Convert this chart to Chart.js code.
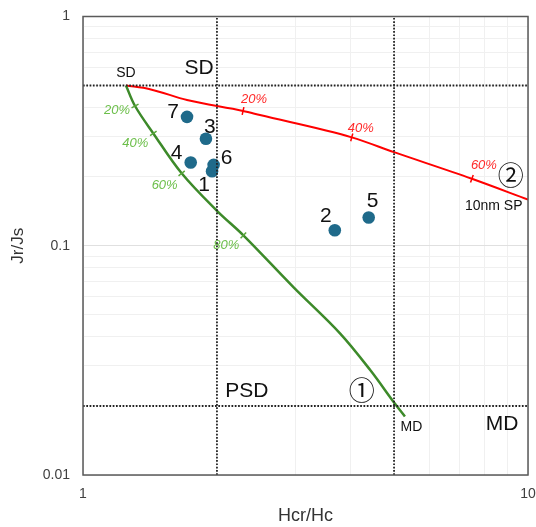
<!DOCTYPE html>
<html>
<head>
<meta charset="utf-8">
<script src="https://cdn.jsdelivr.net/npm/chart.js@4.4.1/dist/chart.umd.min.js"></script>
<style>
  html, body { margin: 0; padding: 0; background: #fff; }
  canvas { display: block; }
</style>
</head>
<body>
<canvas id="day" width="536" height="527"></canvas>
<script>
// Day plot (Jr/Js vs Hcr/Hc) with the SD-MD and SD-SP mixing curves

const sampleIds = ['1', '2', '3', '4', '5', '6', '7'];
const sampleHcr = [1.95, 3.68, 1.889, 1.746, 4.385, 1.966, 1.713];
const sampleJr = [0.2115, 0.1169, 0.2927, 0.2309, 0.1328, 0.2254, 0.365];

// curve 1: SD + MD mixture
const mdCurveHcr = [1.249, 1.309, 1.439, 1.666, 2.0, 2.293, 2.97, 3.78, 4.42, 5.02, 5.29];
const mdCurveJr = [0.5, 0.407, 0.309, 0.207, 0.142, 0.111, 0.066, 0.0415, 0.0287, 0.0205, 0.018];
const mdTickHcr = [1.309, 1.439, 1.666, 2.293];
const mdTickJr = [0.407, 0.309, 0.207, 0.111];
const mdTickLabels = ['20%', '40%', '60%', '80%'];

// curve 2: SD + 10 nm SP mixture
const spCurveHcr = [1.249, 1.414, 1.713, 2.289, 2.498, 4.017, 5.0, 7.48, 10];
const spCurveJr = [0.5, 0.482, 0.432, 0.387, 0.3715, 0.297, 0.256, 0.196, 0.159];
const spTickHcr = [2.289, 4.017, 7.48];
const spTickJr = [0.387, 0.297, 0.196];
const spTickLabels = ['20%', '40%', '60%'];

// domain boundaries (SD / PSD / MD)
const jrBounds = [0.5, 0.02];
const hcrBounds = [2, 5];

// grid positions and labelled ticks
const xGrid = [1, 2, 3, 4, 5, 6, 7, 8, 9, 10];
const yGrid = [0.01, 0.02, 0.03, 0.04, 0.05, 0.06, 0.07, 0.08, 0.09,
               0.1, 0.2, 0.3, 0.4, 0.5, 0.6, 0.7, 0.8, 0.9, 1];
const xTickLabels = [1, 10];
const yTickLabels = [0.01, 0.1, 1];

const FONT = "'Liberation Sans', Arial, sans-serif";
const CJK = "'Noto Sans CJK JP', 'DejaVu Sans', sans-serif";

const pts = (xs, ys) => xs.map((x, i) => ({ x, y: ys[i] }));
const isDecade = v => Math.abs(Math.log10(v) - Math.round(Math.log10(v))) < 1e-6;
const tickText = list => v => {
    const t = list.find(t => Math.abs(Math.log10(t) - Math.log10(v)) < 1e-6);
    return t === undefined ? '' : String(t);
};

// text drawn in value space
const regionLabels = [
    { text: 'SD', x: 1.249, y: 0.567, font: `14px ${FONT}` },
    { text: 'SD', x: 1.823, y: 0.596, font: `21px ${FONT}` },
    { text: 'PSD', x: 2.333, y: 0.0233, font: `21px ${FONT}` },
    { text: 'MD', x: 8.742, y: 0.0167, font: `21px ${FONT}` },
    { text: 'MD', x: 5.473, y: 0.01625, font: `14px ${FONT}` },
    { text: '①', x: 4.229, y: 0.0235, font: `26px ${CJK}` },
    { text: '②', x: 9.145, y: 0.2035, font: `26px ${CJK}` },
    { text: '10nm SP', x: 8.375, y: 0.149, font: `14px ${FONT}` },
];
// pixel offsets of the sample numbers from their markers
const idOffsets = [[-8, 14], [-9, -14], [4, -12], [-14, -9], [4, -16], [13, -7], [-14, -5]];
const mdLabelOffsets = [[-18, 4], [-18, 9.5], [-17, 12], [-17, 10]];
const spLabelOffsets = [[11, -12], [9, -9], [12, -13]];

const annotate = {
    id: 'annotate',
    afterDatasetsDraw(chart) {
        const { ctx, chartArea: a, scales: { x, y } } = chart;
        ctx.save();
        ctx.strokeStyle = '#5a5a5a';
        ctx.lineWidth = 1.5;
        ctx.strokeRect(a.left, a.top, a.right - a.left, a.bottom - a.top);

        ctx.textAlign = 'center';
        ctx.textBaseline = 'middle';
        ctx.fillStyle = '#111';
        regionLabels.forEach(l => {
            ctx.font = l.font;
            ctx.fillText(l.text, x.getPixelForValue(l.x), y.getPixelForValue(l.y));
        });

        ctx.font = `21px ${FONT}`;
        sampleIds.forEach((id, i) => {
            ctx.fillText(id,
                x.getPixelForValue(sampleHcr[i]) + idOffsets[i][0],
                y.getPixelForValue(sampleJr[i]) + idOffsets[i][1]);
        });

        ctx.font = `italic 13px ${FONT}`;
        ctx.fillStyle = '#6cbf4a';
        mdTickLabels.forEach((t, i) => {
            ctx.fillText(t,
                x.getPixelForValue(mdTickHcr[i]) + mdLabelOffsets[i][0],
                y.getPixelForValue(mdTickJr[i]) + mdLabelOffsets[i][1]);
        });
        ctx.fillStyle = '#ff2a2a';
        spTickLabels.forEach((t, i) => {
            ctx.fillText(t,
                x.getPixelForValue(spTickHcr[i]) + spLabelOffsets[i][0],
                y.getPixelForValue(spTickJr[i]) + spLabelOffsets[i][1]);
        });
        ctx.restore();
    }
};

const dotted = (data) => ({
    data,
    showLine: true,
    borderColor: '#222',
    borderWidth: 1.8,
    borderDash: [1.7, 1.6],
    pointRadius: 0,
    order: 0,
});

new Chart(document.getElementById('day'), {
    type: 'scatter',
    data: {
        datasets: [
            dotted([{ x: 1, y: jrBounds[0] }, { x: 10, y: jrBounds[0] }]),
            dotted([{ x: 1, y: jrBounds[1] }, { x: 10, y: jrBounds[1] }]),
            dotted([{ x: hcrBounds[0], y: 0.01 }, { x: hcrBounds[0], y: 1 }]),
            dotted([{ x: hcrBounds[1], y: 0.01 }, { x: hcrBounds[1], y: 1 }]),
            {
                data: pts(sampleHcr, sampleJr),
                backgroundColor: '#1f6a8a',
                borderWidth: 0,
                pointRadius: 6.3,
                order: 1,
            },
            {
                data: pts(mdTickHcr, mdTickJr),
                pointStyle: 'line',
                pointRadius: 4,
                rotation: [-29, -35, -39, -46],
                borderColor: '#5aa83c',
                borderWidth: 1.5,
                order: 2,
            },
            {
                data: pts(spTickHcr, spTickJr),
                pointStyle: 'line',
                pointRadius: 4,
                rotation: [-78, -75, -70],
                borderColor: '#ff0000',
                borderWidth: 1.5,
                order: 2,
            },
            {
                data: pts(mdCurveHcr, mdCurveJr),
                showLine: true,
                tension: 0.35,
                borderColor: '#3d8a2a',
                borderWidth: 2.5,
                pointRadius: 0,
                order: 3,
            },
            {
                data: pts(spCurveHcr, spCurveJr),
                showLine: true,
                cubicInterpolationMode: 'monotone',
                borderColor: '#ff0000',
                borderWidth: 2,
                pointRadius: 0,
                order: 3,
            },
        ],
    },
    options: {
        responsive: false,
        animation: false,
        events: [],
        layout: { padding: { top: 16.5, right: 8, left: 0, bottom: 0 } },
        plugins: { legend: { display: false }, tooltip: { enabled: false } },
        scales: {
            x: {
                type: 'logarithmic',
                min: 1,
                max: 10,
                afterBuildTicks: s => { s.ticks = xGrid.map(value => ({ value })); },
                afterFit: s => { s.height = 52; s.paddingLeft = 0; s.paddingRight = 0; },
                border: { display: false },
                grid: {
                    drawTicks: false,
                    color: c => isDecade(c.tick.value) ? '#e0e0e0' : '#f0f0f0',
                },
                ticks: {
                    autoSkip: false,
                    maxRotation: 0,
                    padding: 11,
                    color: '#404040',
                    font: { family: FONT, size: 14 },
                    callback: tickText(xTickLabels),
                },
                title: {
                    display: true,
                    text: 'Hcr/Hc',
                    color: '#333',
                    font: { family: FONT, size: 18 },
                    padding: 0,
                },
            },
            y: {
                type: 'logarithmic',
                min: 0.01,
                max: 1,
                afterBuildTicks: s => { s.ticks = yGrid.map(value => ({ value })); },
                afterFit: s => { s.width = 83; s.paddingTop = 0; s.paddingBottom = 0; },
                border: { display: false },
                grid: {
                    drawTicks: false,
                    color: c => isDecade(c.tick.value) ? '#e0e0e0' : '#f0f0f0',
                },
                ticks: {
                    autoSkip: false,
                    padding: 13,
                    color: '#404040',
                    font: { family: FONT, size: 14 },
                    callback: tickText(yTickLabels),
                },
                title: {
                    display: true,
                    text: 'Jr/Js',
                    color: '#333',
                    font: { family: FONT, size: 17 },
                    padding: { top: 8, bottom: 0 },
                },
            },
        },
    },
    plugins: [annotate],
});
</script>
</body>
</html>
